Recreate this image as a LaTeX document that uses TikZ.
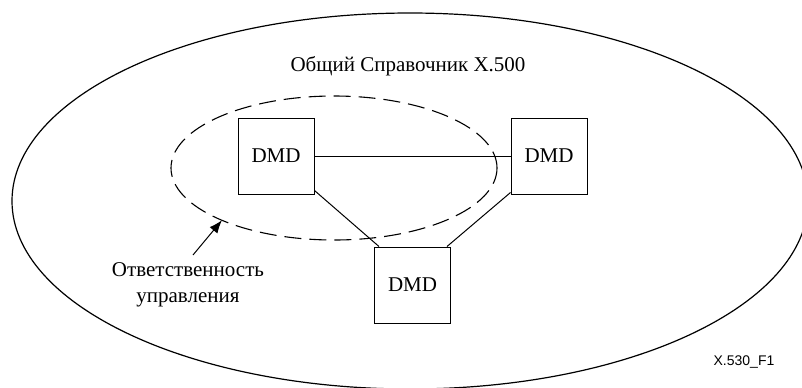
\documentclass[tikz,border=0pt]{standalone}
\usepackage{fontspec}
\setmainfont{Liberation Serif}
\newfontfamily\figfont{Liberation Sans}
\usetikzlibrary{arrows.meta,shapes.geometric}

\tikzset{
    dmd/.style={draw, line width=0.5pt, minimum width=38pt, minimum height=38pt, inner sep=0pt},
    zonebox/.style={draw, ellipse, dash pattern=on 8.5pt off 4pt, line width=0.55pt,
                    minimum width=163pt, minimum height=72pt, inner sep=0pt, outer sep=0pt},
    link/.style={line width=0.5pt}
}

\begin{document}
\begin{tikzpicture}[x=0.5pt, y=-0.5pt, font=\fontsize{10.5}{13}\selectfont]
                \useasboundingbox (0,0) rectangle (802,387);
                \clip (0,0) rectangle (802,387);

                \draw[line width=0.6pt] (410,201) ellipse [x radius=199pt, y radius=94pt];
                \node (title) at (408,66) {Общий Справочник X.500};

                \node[zonebox] (zone) at (334,168) {};

                \node[dmd] (dmdl) at (276,156) {DMD};
                \node[dmd] (dmdr) at (549,156) {DMD};
                \node[dmd] (dmdb) at (412.5,285) {DMD};

                \draw[link] (dmdl.east) -- (dmdr.west);
                \draw[link] ([yshift=2pt]dmdl.south east) -- ([xshift=2.5pt]dmdb.north west);
                \draw[link] ([yshift=1pt]dmdr.south west) -- ([xshift=-2pt]dmdb.north east);

                \node[align=center] (resp) at (188,285) {Ответственность\\управления};
                \coordinate (tail) at (193,255);
                \draw[line width=0.5pt, -{Latex[length=6.5pt,width=5pt]}] (tail) -- (zone.205);

                \node[font=\figfont\fontsize{7}{8}\selectfont] (fig) at (744,362) {X.530\_F1};
            \end{tikzpicture}
\end{document}
